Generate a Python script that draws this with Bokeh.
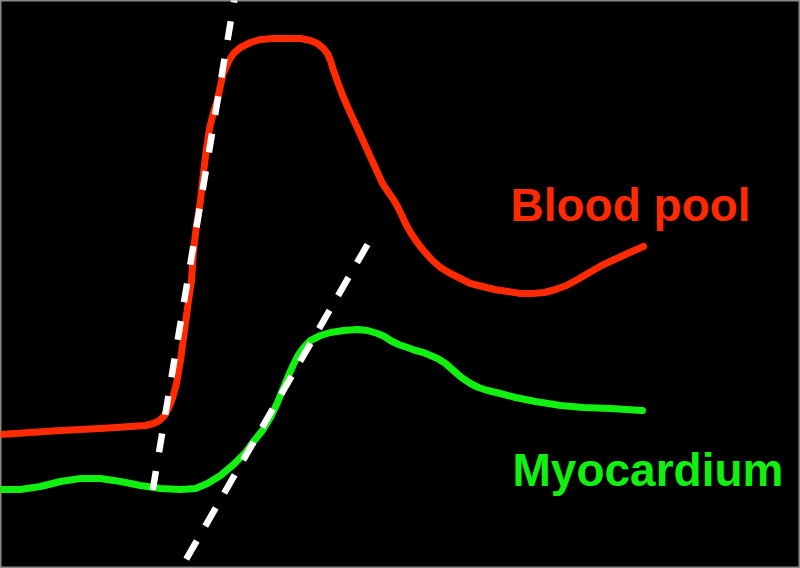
from bokeh.plotting import figure
from bokeh.models import Range1d
from bokeh.embed import file_html
from bokeh.resources import INLINE
from bokeh.core.properties import value

# Blood pool curve (reference pixel coords, y downward)
red_x = [0, 30, 60, 100, 130, 145, 153, 159, 164, 168, 172, 176, 180, 184, 188, 191, 193, 196, 200,
         203, 206, 209, 213, 217, 220, 223, 228, 233, 240, 250, 260, 273, 290, 300, 310, 317, 323,
         327, 330, 333, 338, 343, 350, 358, 367, 377, 382, 388, 393, 397, 401, 405, 410, 416, 423,
         431, 440, 450, 460, 470, 482, 494, 507, 520, 532, 544, 555, 566, 577, 589, 601, 614,
         627, 643]
red_y = [434, 432, 430, 428, 426, 425, 423, 420, 415, 408, 398, 383, 360, 330, 300, 280, 250, 225, 200,
         172, 148, 128, 112, 99, 85, 72, 61, 53, 47, 42, 39, 38, 38, 38, 40, 43, 48,
         53, 60, 70, 84, 97, 113, 130, 150, 172, 183, 192, 199, 206, 214, 223, 232, 241, 250,
         259, 267, 273, 278, 283, 286, 289, 291, 293, 293, 292, 289, 285, 279, 272, 265, 259,
         253, 246]

# Myocardium curve
green_x = [0, 20, 40, 60, 80, 100, 120, 140, 160, 180, 195, 207, 220, 233, 245, 253, 262,
           270, 277, 283, 288, 293, 298, 304, 310, 320, 330, 343, 357, 367, 377, 384, 390, 398,
           407, 415, 423, 430, 437, 445, 453, 461, 470, 478, 487, 500, 515, 535, 560, 583, 610, 642]
green_y = [489, 489, 486, 481, 478, 478, 481, 485, 488, 489, 488, 483, 475, 464, 452, 441, 430,
           417, 402, 387, 375, 364, 354, 346, 340, 335, 332, 330, 329, 330, 333, 336, 340, 344,
           347, 350, 352, 355, 358, 363, 370, 377, 383, 387, 390, 393, 397, 401, 405, 407, 408, 410]

# Tangent (upslope) lines
tan1_x = [234, 151]
tan1_y = [-2, 497]
tan2_x = [367, 178]
tan2_y = [244, 572]

labels = ["Blood pool", "Myocardium"]
label_x = [510, 512]
label_y = [204, 469]

p = figure(width=800, height=568, output_backend="svg", toolbar_location=None,
           x_range=Range1d(0, 800), y_range=Range1d(568, 0),
           min_border=0, background_fill_color="black", border_fill_color="black")
p.axis.visible = False
p.grid.visible = False
p.outline_line_color = "#8a8a8a"
p.outline_line_width = 2

p.line(red_x, red_y, line_color="#ff2a00", line_width=7, line_join="round", line_cap="round")
p.line(green_x, green_y, line_color="#11f011", line_width=7, line_join="round", line_cap="round")

p.line(tan1_x, tan1_y, line_color="white", line_width=6.5, line_dash="19 19", line_dash_offset=15)
p.line(tan2_x, tan2_y, line_color="white", line_width=6.5, line_dash="21 17")

p.text(x=label_x[:1], y=label_y[:1], text=labels[:1], text_color="#ff2a00",
       text_font=value("Liberation Sans"), text_font_style="bold", text_font_size="46px",
       text_baseline="alphabetic", text_align="left")
p.text(x=label_x[1:], y=label_y[1:], text=labels[1:], text_color="#11f011",
       text_font=value("Liberation Sans"), text_font_style="bold", text_font_size="46px",
       text_baseline="alphabetic", text_align="left")

open("out.html", "w").write(file_html(p, INLINE))
